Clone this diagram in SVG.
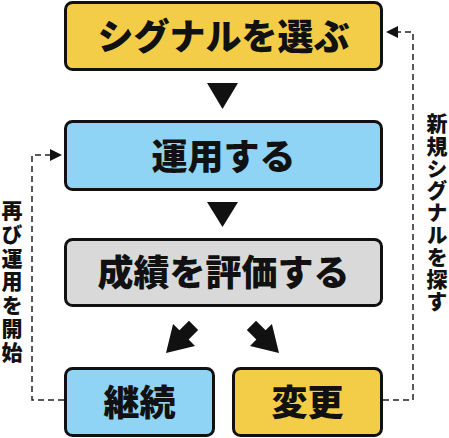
<svg xmlns="http://www.w3.org/2000/svg" width="449" height="438" viewBox="0 0 449 438">
<style>
.box{stroke:#111;stroke-width:3}
.y{fill:#F4CD48}.b{fill:#8FD4F5}.g{fill:#D9D9D9}
.t{font-family:"Noto Sans CJK JP",sans-serif;font-weight:900;font-size:36px;fill:#111;text-anchor:middle}
.v{font-family:"Noto Sans CJK JP",sans-serif;font-weight:900;font-size:21px;fill:#111;writing-mode:vertical-rl;text-orientation:upright}
.d{fill:none;stroke:#222;stroke-width:1.5;stroke-dasharray:6 4}
</style>
<rect width="449" height="438" fill="#fff"/>
<g id="connectors">
<polygon points="207,83 238,83 222.5,109" fill="#111"/>
<polygon points="207,202 238,202 222.5,227" fill="#111"/>
<path transform="translate(166,353) rotate(45)" d="M0,0 L15.5,-25.5 L6.5,-25.5 L6.5,-39 L-6.5,-39 L-6.5,-25.5 L-15.5,-25.5 Z" fill="#111"/>
<path transform="translate(279,353) rotate(-45)" d="M0,0 L15.5,-25.5 L6.5,-25.5 L6.5,-39 L-6.5,-39 L-6.5,-25.5 L-15.5,-25.5 Z" fill="#111"/>
<path class="d" d="M383,400 H413 V32 H398"/>
<polygon points="386,32 398,26 398,38" fill="#111"/>
<path class="d" d="M64,400 H32 V155 H50"/>
<polygon points="62,155 50,149 50,161" fill="#111"/>
</g>
<g id="n1"><rect class="box y" x="65.5" y="2.5" width="316" height="67" rx="7"/><text class="t" x="223.5" y="49.5">シグナルを選ぶ</text></g>
<g id="n2"><rect class="box b" x="65.5" y="121.5" width="316" height="68" rx="7"/><text class="t" x="223.5" y="169.5">運用する</text></g>
<g id="n3"><rect class="box g" x="65.5" y="239.5" width="316" height="66" rx="7"/><text class="t" x="223.5" y="285.5">成績を評価する</text></g>
<g id="n4"><rect class="box b" x="65.5" y="368.5" width="148" height="67" rx="7"/><text class="t" x="139.5" y="415.5">継続</text></g>
<g id="n5"><rect class="box y" x="233.5" y="368.5" width="148" height="67" rx="7"/><text class="t" x="307.5" y="415.5">変更</text></g>
<g id="label-right"><text class="v" x="437" y="113" letter-spacing="1.2">新規シグナルを探す</text></g>
<g id="label-left"><text class="v" x="12" y="200" letter-spacing="2.6">再び運用を開始</text></g>
</svg>
